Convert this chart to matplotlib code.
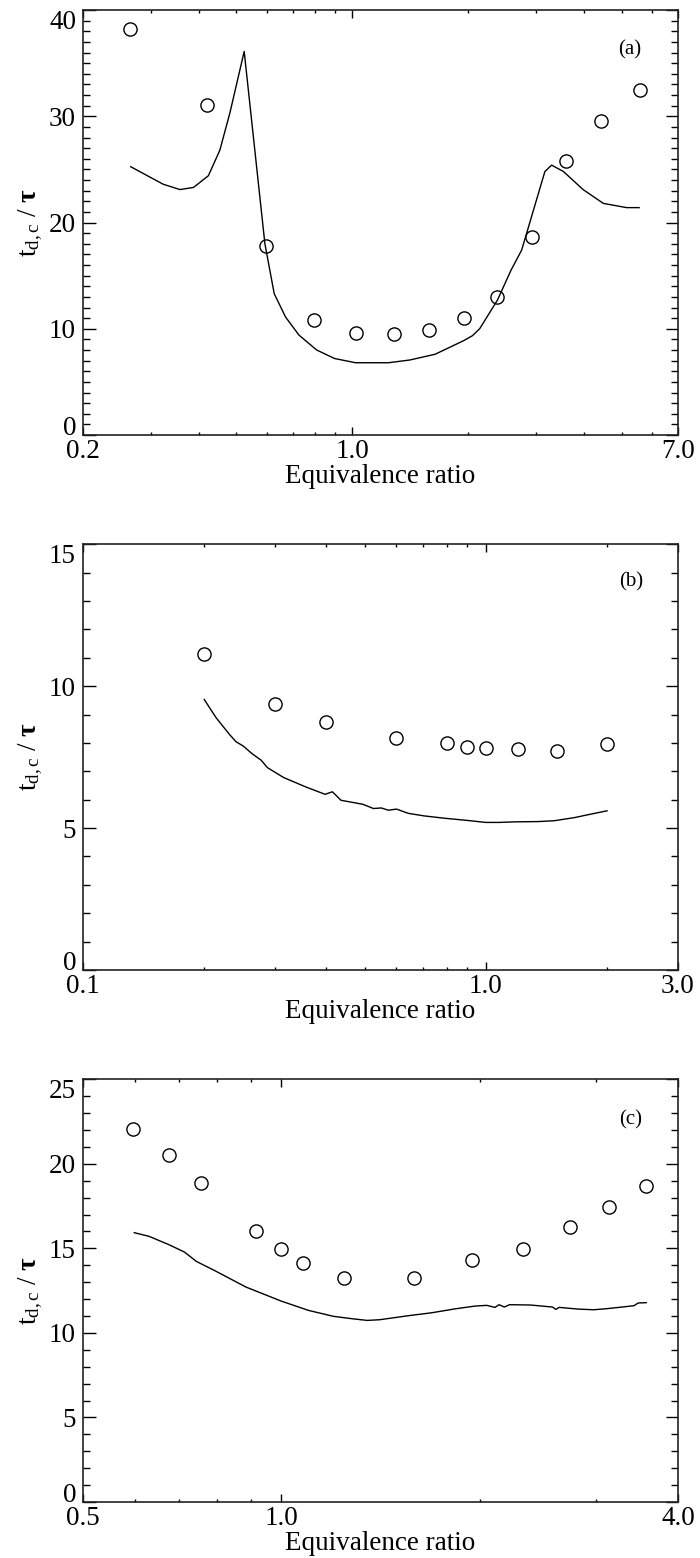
import matplotlib
matplotlib.use("Agg")
import matplotlib.pyplot as plt
from matplotlib.ticker import FixedLocator, LogLocator, MultipleLocator, NullFormatter

plt.rcParams['font.family'] = ['Liberation Serif', 'DejaVu Serif']
plt.rcParams['mathtext.fontset'] = 'custom'
plt.rcParams['mathtext.rm'] = 'Liberation Serif'
plt.rcParams['mathtext.it'] = 'Liberation Serif:italic'
plt.rcParams['mathtext.bf'] = 'Liberation Serif:bold'

# ---------------- data ----------------
# panel (a)
a_exp_x = [0.265, 0.420, 0.596, 0.793, 1.02, 1.28, 1.585, 1.95, 2.38, 2.92, 3.58, 4.43, 5.58]
a_exp_y = [38.2, 31.1, 17.8, 10.8, 9.6, 9.55, 9.9, 11.0, 13.0, 18.6, 25.8, 29.6, 32.5]
a_sim_x = [0.266, 0.323, 0.357, 0.387, 0.423, 0.453, 0.481, 0.524, 0.593, 0.627, 0.671,
           0.727, 0.808, 0.899, 1.02, 1.24, 1.41, 1.64, 1.95, 2.05, 2.14, 2.38, 2.58,
           2.75, 3.16, 3.29, 3.53, 3.97, 4.48, 5.15, 5.55]
a_sim_y = [25.25, 23.6, 23.1, 23.3, 24.4, 26.8, 30.3, 36.1, 18.0, 13.3, 11.1,
           9.4, 8.0, 7.2, 6.8, 6.8, 7.06, 7.6, 8.9, 9.35, 10.0, 12.7, 15.5,
           17.4, 24.8, 25.4, 24.8, 23.1, 21.8, 21.4, 21.4]

# panel (b)
b_exp_x = [0.2, 0.3, 0.4, 0.6, 0.8, 0.9, 1.0, 1.2, 1.5, 2.0]
b_exp_y = [11.15, 9.38, 8.75, 8.16, 8.0, 7.86, 7.82, 7.78, 7.72, 7.95]
b_sim_x = [0.2, 0.214, 0.231, 0.240, 0.250, 0.263, 0.277, 0.287, 0.315, 0.356, 0.399,
           0.416, 0.437, 0.495, 0.526, 0.550, 0.573, 0.60, 0.642, 0.703, 0.787, 0.90,
           1.0, 1.08, 1.18, 1.35, 1.48, 1.66, 1.82, 2.0]
b_sim_y = [9.53, 8.89, 8.30, 8.04, 7.89, 7.62, 7.39, 7.13, 6.78, 6.46, 6.19,
           6.28, 5.98, 5.84, 5.69, 5.71, 5.63, 5.67, 5.52, 5.43, 5.35, 5.27,
           5.20, 5.20, 5.22, 5.23, 5.26, 5.37, 5.49, 5.61]

# panel (c)
c_exp_x = [0.596, 0.675, 0.754, 0.915, 1.0, 1.08, 1.245, 1.59, 1.95, 2.33, 2.74, 3.14, 3.58]
c_exp_y = [22.08, 20.5, 18.87, 16.03, 14.94, 14.13, 13.26, 13.26, 14.33, 14.94, 16.26, 17.45, 18.67]
c_sim_x = [0.598, 0.630, 0.675, 0.713, 0.743, 0.791, 0.884, 1.0, 1.10, 1.20, 1.28, 1.35,
           1.41, 1.56, 1.69, 1.84, 1.97, 2.05, 2.11, 2.14, 2.18, 2.22, 2.39, 2.58, 2.61,
           2.64, 2.82, 2.98, 3.11, 3.29, 3.43, 3.48, 3.58]
c_sim_y = [15.93, 15.71, 15.22, 14.78, 14.23, 13.7, 12.71, 11.88, 11.33, 10.98, 10.84, 10.74,
           10.78, 11.02, 11.19, 11.43, 11.59, 11.63, 11.51, 11.67, 11.53, 11.67, 11.65, 11.53, 11.39,
           11.51, 11.41, 11.37, 11.43, 11.53, 11.61, 11.77, 11.79]

panels = [
    dict(ex=a_exp_x, ey=a_exp_y, sx=a_sim_x, sy=a_sim_y, xlim=(0.2, 7.0), ylim=(0, 40),
         xticks=[0.2, 1.0, 7.0], xlabels=['0.2', '1.0', '7.0'],
         yticks=[0, 10, 20, 30, 40], tag='(a)', tagpos=(0.919, 0.906),
         rect=[83/700, 1-435/1558, 595/700, 425/1558]),
    dict(ex=b_exp_x, ey=b_exp_y, sx=b_sim_x, sy=b_sim_y, xlim=(0.1, 3.0), ylim=(0, 15),
         xticks=[0.1, 1.0, 3.0], xlabels=['0.1', '1.0', '3.0'],
         yticks=[0, 5, 10, 15], tag='(b)', tagpos=(0.922, 0.912),
         rect=[83/700, 1-970/1558, 595/700, 425.7/1558]),
    dict(ex=c_exp_x, ey=c_exp_y, sx=c_sim_x, sy=c_sim_y, xlim=(0.5, 4.0), ylim=(0, 25),
         xticks=[0.5, 1.0, 4.0], xlabels=['0.5', '1.0', '4.0'],
         yticks=[0, 5, 10, 15, 20, 25], tag='(c)', tagpos=(0.920, 0.904),
         rect=[83/700, 1-1502/1558, 595/700, 422.7/1558]),
]

fig = plt.figure(figsize=(7.0, 15.58), dpi=100)
FS = 19.5

for p in panels:
    ax = fig.add_axes(p['rect'])
    ax.plot(p['sx'], p['sy'], color='black', lw=1.0)
    ax.plot(p['ex'], p['ey'], linestyle='none', marker='o', markersize=9.5,
            markerfacecolor='none', markeredgecolor='black', markeredgewidth=1.0)
    ax.set_xscale('log')
    ax.set_xlim(*p['xlim'])
    ax.set_ylim(*p['ylim'])
    ax.xaxis.set_major_locator(FixedLocator(p['xticks']))
    ax.set_xticklabels(p['xlabels'])
    ax.xaxis.set_minor_locator(LogLocator(base=10, subs=[2, 3, 4, 5, 6, 7, 8, 9]))
    ax.xaxis.set_minor_formatter(NullFormatter())
    ax.set_yticks(p['yticks'])
    ax.set_yticklabels([str(v) for v in p['yticks']])
    ax.yaxis.set_minor_locator(MultipleLocator(1))
    ax.tick_params(axis='both', which='both', direction='in', top=True, right=True,
                   labelsize=FS, color='black', width=1.0)
    ax.tick_params(axis='y', which='major', length=9, pad=5)
    ax.tick_params(axis='y', which='minor', length=4.8)
    ax.tick_params(axis='x', which='major', length=5.5, pad=3)
    ax.tick_params(axis='x', which='minor', length=2.5)
    for s in ax.spines.values():
        s.set_linewidth(1.2)
        s.set_color('#222222')
    yt = ax.yaxis.get_major_ticks()
    yt[0].label1.set_verticalalignment('baseline')
    yt[-1].label1.set_verticalalignment('top')
    ax.set_xlabel('Equivalence ratio', fontsize=FS, labelpad=0)
    ax.set_ylabel(r'$\mathrm{t}_{\mathrm{d,c}}\ /\ \mathbf{\tau}$', fontsize=FS, labelpad=3)
    ax.text(p['tagpos'][0], p['tagpos'][1], p['tag'], transform=ax.transAxes,
            fontsize=15, ha='center', va='center')

fig.savefig('out.png', dpi=100)
